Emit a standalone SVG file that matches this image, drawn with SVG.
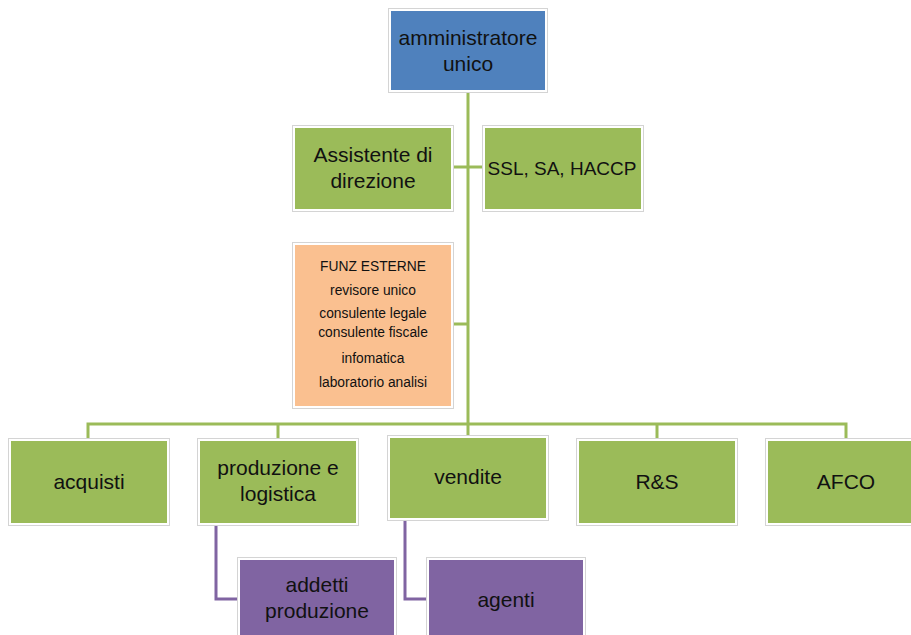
<svg xmlns="http://www.w3.org/2000/svg" width="911" height="635" viewBox="0 0 911 635">
<style>
.box{stroke:#ffffff;stroke-width:2}
.edge{fill:none;stroke:#d4d4d4;stroke-width:1}
.t{font-family:"Liberation Sans",Arial,sans-serif;fill:#111;text-anchor:middle}
.big{font-size:21px}
.small{font-size:13.8px}
.g{fill:none;stroke:#9bbb59;stroke-width:3}
.p{fill:none;stroke:#8064a2;stroke-width:3}
</style>
<rect width="911" height="635" fill="#ffffff"/>
<g id="connectors">
<path class="g" d="M468 91 V437"/>
<path class="g" d="M452 167 H484"/>
<path class="g" d="M452 324 H468"/>
<path class="g" d="M88 440 V424 H846 V440"/>
<path class="g" d="M278 424 V440"/>
<path class="g" d="M657 424 V440"/>
<path class="p" d="M216 524 V599 H240"/>
<path class="p" d="M405 519 V599 H429"/>
</g>
<g id="n-admin">
<rect class="edge" x="388.5" y="8.5" width="159" height="84"/>
<rect class="box" x="390" y="10" width="156" height="81" fill="#4f81bd"/>
<text class="t big" x="468" y="45">amministratore</text>
<text class="t big" x="468" y="71">unico</text>
</g>
<g id="n-assistente">
<rect class="edge" x="292.5" y="125.5" width="161" height="86"/>
<rect class="box" x="294" y="127" width="158" height="83" fill="#9bbb59"/>
<text class="t big" x="373" y="162">Assistente di</text>
<text class="t big" x="373" y="188">direzione</text>
</g>
<g id="n-ssl">
<rect class="edge" x="482.5" y="125.5" width="161" height="86"/>
<rect class="box" x="484" y="127" width="158" height="83" fill="#9bbb59"/>
<text class="t big" x="562" y="175" style="font-size:19px">SSL, SA, HACCP</text>
</g>
<g id="n-funz">
<rect class="edge" x="292.5" y="242.5" width="161" height="166"/>
<rect class="box" x="294" y="244" width="158" height="163" fill="#fac090"/>
<text class="t small" x="373" y="271">FUNZ ESTERNE</text>
<text class="t small" x="373" y="295">revisore unico</text>
<text class="t small" x="373" y="318">consulente legale</text>
<text class="t small" x="373" y="337">consulente fiscale</text>
<text class="t small" x="373" y="363">infomatica</text>
<text class="t small" x="373" y="387">laboratorio analisi</text>
</g>
<g id="n-acquisti">
<rect class="edge" x="8.5" y="438.5" width="161" height="87"/>
<rect class="box" x="10" y="440" width="158" height="84" fill="#9bbb59"/>
<text class="t big" x="89" y="489">acquisti</text>
</g>
<g id="n-produzione">
<rect class="edge" x="197.5" y="438.5" width="161" height="87"/>
<rect class="box" x="199" y="440" width="158" height="84" fill="#9bbb59"/>
<text class="t big" x="278" y="475">produzione e</text>
<text class="t big" x="278" y="501">logistica</text>
</g>
<g id="n-vendite">
<rect class="edge" x="387.5" y="435.5" width="161" height="85"/>
<rect class="box" x="389" y="437" width="158" height="82" fill="#9bbb59"/>
<text class="t big" x="468" y="484">vendite</text>
</g>
<g id="n-rs">
<rect class="edge" x="576.5" y="438.5" width="161" height="87"/>
<rect class="box" x="578" y="440" width="158" height="84" fill="#9bbb59"/>
<text class="t big" x="657" y="489">R&amp;S</text>
</g>
<g id="n-afco">
<rect class="edge" x="765.5" y="438.5" width="161" height="87"/>
<rect class="box" x="767" y="440" width="158" height="84" fill="#9bbb59"/>
<text class="t big" x="846" y="489">AFCO</text>
</g>
<g id="n-addetti">
<rect class="edge" x="237.5" y="557.5" width="159" height="90"/>
<rect class="box" x="239" y="559" width="156" height="90" fill="#8064a2"/>
<text class="t big" x="317" y="592">addetti</text>
<text class="t big" x="317" y="618">produzione</text>
</g>
<g id="n-agenti">
<rect class="edge" x="426.5" y="557.5" width="159" height="90"/>
<rect class="box" x="428" y="559" width="156" height="90" fill="#8064a2"/>
<text class="t big" x="506" y="607">agenti</text>
</g>
</svg>
